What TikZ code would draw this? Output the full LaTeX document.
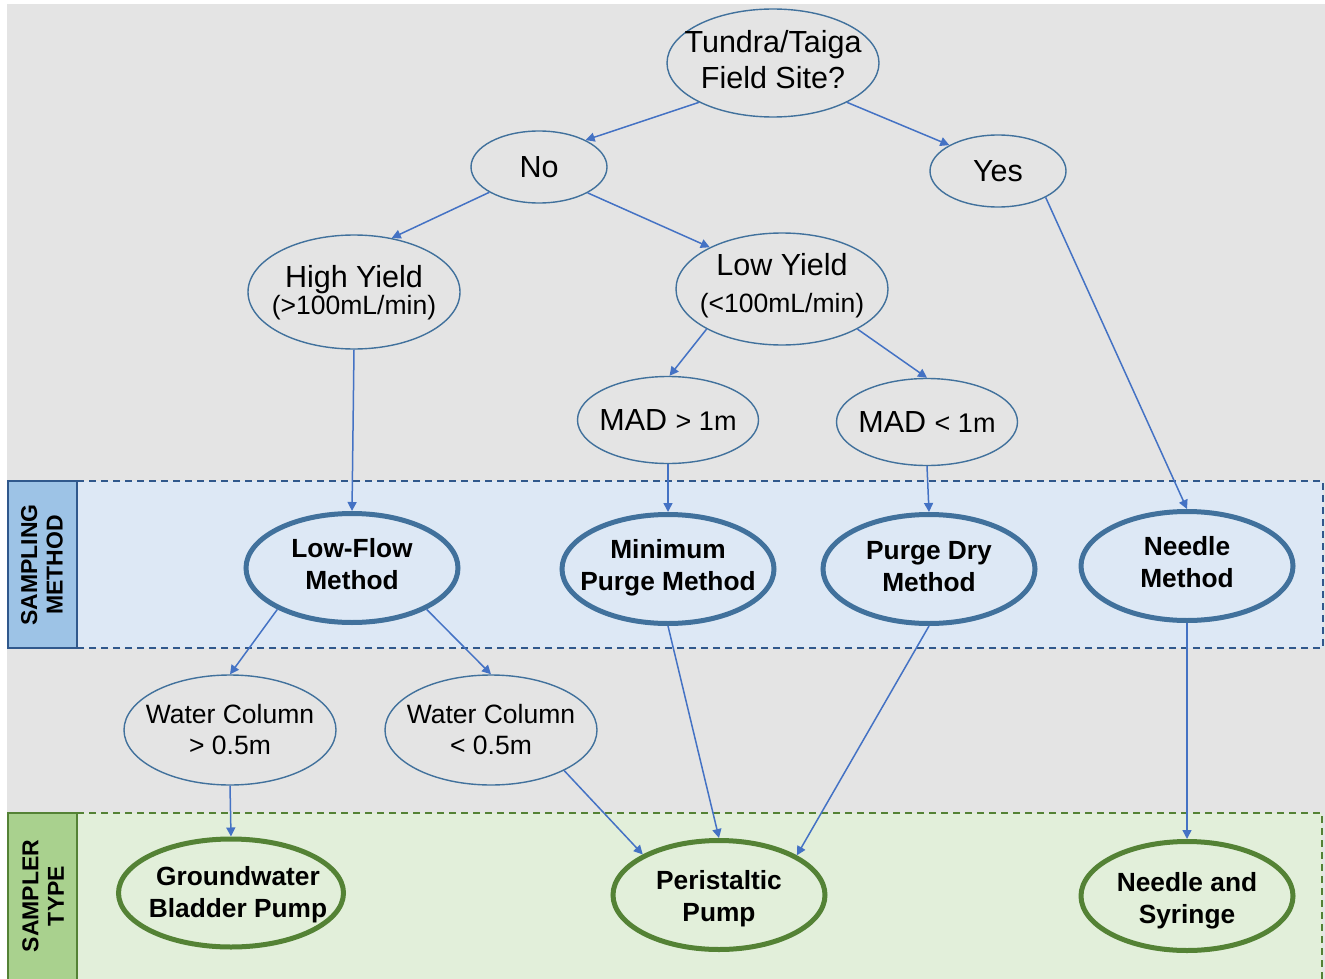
\documentclass[tikz,border=0pt]{standalone}
\usepackage{fontspec}
\setmainfont{Liberation Sans}
\usetikzlibrary{shapes.geometric,arrows.meta}

\definecolor{bggray}{HTML}{E4E4E4}
\definecolor{bandblue}{HTML}{DDE8F5}
\definecolor{tabblue}{HTML}{9DC3E6}
\definecolor{frameblue}{HTML}{30588C}
\definecolor{bandgreen}{HTML}{E2EFDA}
\definecolor{tabgreen}{HTML}{A9D18E}
\definecolor{framegreen}{HTML}{548235}
\definecolor{ovalblue}{HTML}{41719C}
\definecolor{arrowblue}{HTML}{4472C4}

\newcommand{\subsize}{\fontsize{26.5}{31}\selectfont}

\tikzset{
  qtext/.style={align=center, font={\fontsize{30.5}{36}\selectfont}, inner sep=0pt},
  wtext/.style={qtext, font={\fontsize{26.5}{31}\selectfont}},
  btext/.style={align=center, font={\fontsize{26.3}{32}\selectfont\bfseries}, inner sep=0pt},
  question/.style={ellipse, draw=ovalblue, line width=1.4pt, inner sep=0pt,
    minimum width=212pt, minimum height=110pt},
  small question/.style={question, minimum width=136pt, minimum height=72pt},
  mad/.style={question, minimum width=181pt, minimum height=87pt},
  method/.style={ellipse, draw=ovalblue, line width=5pt, inner sep=0pt,
    minimum width=212pt, minimum height=109pt},
  sampler/.style={method, draw=framegreen},
  conn/.style={draw=arrowblue, line width=1.5pt, -{Triangle[length=9pt,width=9pt]}},
  tabtext/.style={rotate=90, align=center, inner sep=0pt,
    font={\fontsize{23}{25.5}\selectfont\bfseries}}
}

\begin{document}
\begin{tikzpicture}[x=1pt,y=-1pt]
\useasboundingbox (0,0) rectangle (1325,979);

% backdrop
\fill[bggray] (7,4) rectangle (1325,979);

% sampling method band
\fill[bandblue] (8,481) rectangle (1323,648);
\draw[frameblue, line width=2pt, dash pattern=on 7pt off 5pt] (77,481) -- (1323,481) -- (1323,648) -- (77,648);
\draw[frameblue, line width=2pt, fill=tabblue] (8,481) rectangle (77,648);
\node[tabtext] (tabmethod) at (42,565) {SAMPLING\\METHOD};

% sampler type band
\fill[bandgreen] (8,813) rectangle (1322,985);
\draw[framegreen, line width=1.6pt, dash pattern=on 7pt off 5pt] (77,813) -- (1322,813) -- (1322,985);
\draw[framegreen, line width=1.6pt, fill=tabgreen] (8,985) -- (8,813) -- (77,813) -- (77,985);
\node[tabtext] (tabtype) at (43,896) {SAMPLER\\TYPE};

% decision ovals
\node[question, minimum height=108pt, label={[qtext, yshift=3pt]center:Tundra/Taiga\\Field Site?}] (site) at (773,63) {};
\node[small question, label={[qtext]center:No}] (no) at (539,167) {};
\node[small question, label={[qtext]center:Yes}] (yes) at (998,171) {};
\node[question, minimum height=114pt,
  label={[qtext, yshift=-1pt]center:High Yield\\[-9pt]{\subsize(>100mL/min)}}] (high) at (354,292) {};
\node[question, minimum height=112pt,
  label={[qtext, yshift=3pt]center:Low Yield\\[1pt]{\subsize(<100mL/min)}}] (low) at (782,289) {};
\node[mad, label={[qtext]center:MAD {\fontsize{27}{31}\selectfont> 1m}}] (madgt) at (668,420) {};
\node[mad, label={[qtext]center:MAD {\fontsize{27}{31}\selectfont< 1m}}] (madlt) at (927,422) {};

% sampling methods
\node[method, label={[btext, yshift=4pt]center:Low-Flow\\Method}] (lowflow) at (352,568) {};
\node[method, label={[btext, yshift=1.5pt]center:Minimum\\Purge Method}] (minpurge) at (668,569) {};
\node[method, label={[btext, yshift=2.5pt]center:Purge Dry\\Method}] (purgedry) at (929,569) {};
\node[method, label={[btext, yshift=4pt]center:Needle\\Method}] (needle) at (1187,566) {};

% water column checks
\node[question, label={[wtext]center:Water Column\\> 0.5m}] (wcgt) at (230,730) {};
\node[question, label={[wtext]center:Water Column\\< 0.5m}] (wclt) at (491,730) {};

% sampler types
\node[sampler, minimum width=225pt, minimum height=108pt,
  label={[btext, xshift=7pt, yshift=-2pt]center:Groundwater\\Bladder Pump}] (bladder) at (231,893) {};
\node[sampler, label={[btext, yshift=-4pt]center:Peristaltic\\Pump}] (peri) at (719,895) {};
\node[sampler, label={[btext, yshift=-5pt]center:Needle and\\Syringe}] (syringe) at (1187,896) {};

% connectors
\draw[conn] (site.208) -- (no.30);
\draw[conn] (site.332) -- (yes.152);
\draw[conn] (no.207) -- (high.55);
\draw[conn] (no.332) -- (low.150);
\draw[conn] (high.south) -- (lowflow.north);
\draw[conn] (low.208) -- (madgt.88);
\draw[conn] (low.332) -- (madlt.north);
\draw[conn] (madgt.south) -- (minpurge.north);
\draw[conn] (madlt.south) -- (purgedry.north);
\draw[conn] (yes.331) -- (needle.north);
\draw[conn] (lowflow.209) -- (wcgt.north);
\draw[conn] (lowflow.331) -- (wclt.north);
\draw[conn] (wcgt.south) -- (bladder.north);
\draw[conn] (wclt.331) -- (peri.152);
\draw[conn] (minpurge.south) -- (peri.north);
\draw[conn] (purgedry.south) -- (peri.27);
\draw[conn] (needle.south) -- (syringe.north);
\end{tikzpicture}
\end{document}
